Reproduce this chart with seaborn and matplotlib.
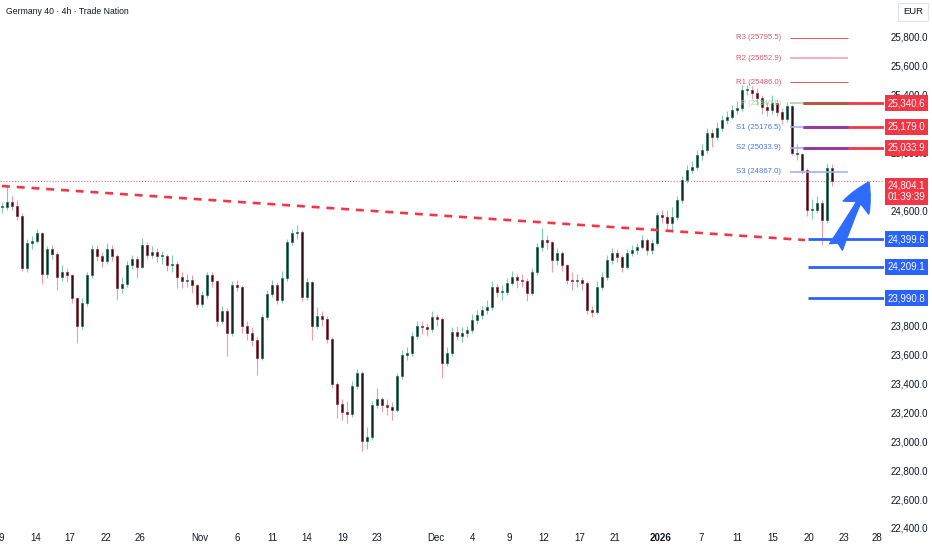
import numpy as np
import pandas as pd
import matplotlib
matplotlib.use("Agg")
import matplotlib.pyplot as plt
import seaborn as sns

# Germany 40, 4h bars (thinned out), prices
closes = [24620, 24660, 24630, 24560, 24200, 24370, 24390, 24440, 24160, 24330,
          24300, 24140, 24170, 24150, 23990, 23800, 23960, 24150, 24330, 24280,
          24250, 24330, 24280, 24060, 24090, 24220, 24260, 24210, 24360, 24290,
          24310, 24280, 24280, 24220, 24230, 24140, 24110, 24120, 24080, 23950,
          24010, 24150, 24110, 23830, 23900, 23750, 24080, 24070, 23800, 23750,
          23700, 23580, 23860, 24020, 24080, 23980, 24130, 24380, 24440, 24450,
          24000, 24100, 23800, 23870, 23850, 23710, 23400, 23260, 23200, 23190,
          23380, 23470, 23000, 23030, 23250, 23290, 23250, 23240, 23220, 23450,
          23600, 23610, 23730, 23800, 23790, 23780, 23860, 23850, 23540, 23610,
          23760, 23730, 23750, 23770, 23840, 23875, 23910, 23930, 24070, 24035,
          24035, 24095, 24140, 24115, 24110, 24030, 24170, 24345, 24395, 24380,
          24255, 24305, 24220, 24115, 24110, 24115, 24095, 23910, 23895, 24070,
          24140, 24255, 24305, 24275, 24205, 24305, 24325, 24345, 24395, 24325,
          24375, 24565, 24550, 24510, 24555, 24670, 24810, 24880, 24900, 24980,
          25020, 25135, 25110, 25170, 25225, 25245, 25295, 25310, 25430, 25435,
          25410, 25375, 25315, 25295, 25345, 25280, 25230, 25320, 25000, 24990,
          24880, 24600, 24600, 24650, 24530, 24890, 24804]
highs = [24660, 24770, 24700, 24670, 24580, 24400, 24420, 24470, 24450, 24350,
         24360, 24310, 24220, 24200, 24160, 24000, 23990, 24170, 24360, 24360,
         24310, 24370, 24360, 24300, 24140, 24250, 24290, 24280, 24410, 24380,
         24350, 24340, 24320, 24300, 24290, 24250, 24170, 24160, 24150, 24090,
         24040, 24170, 24170, 24120, 23940, 23920, 24110, 24120, 24080, 23830,
         23790, 23720, 23880, 24050, 24120, 24100, 24180, 24400, 24470, 24500,
         24460, 24130, 24110, 23930, 23900, 23870, 23720, 23410, 23290, 23280,
         23420, 23500, 23490, 23100, 23280, 23370, 23310, 23290, 23270, 23470,
         23630, 23650, 23760, 23830, 23830, 23820, 23900, 23880, 23860, 23650,
         23790, 23800, 23790, 23800, 23880, 23910, 23940, 23980, 24110, 24090,
         24080, 24130, 24180, 24160, 24160, 24130, 24200, 24370, 24480, 24430,
         24390, 24340, 24320, 24230, 24170, 24160, 24140, 24110, 23940, 24110,
         24170, 24290, 24340, 24330, 24290, 24330, 24360, 24370, 24430, 24410,
         24400, 24590, 24600, 24600, 24620, 24700, 24840, 24910, 24940, 25020,
         25060, 25170, 25160, 25210, 25260, 25290, 25330, 25360, 25470, 25470,
         25460, 25450, 25400, 25350, 25400, 25370, 25310, 25350, 25330, 25060,
         25000, 24890, 24680, 24700, 24670, 24930, 24920]
lows = [24580, 24600, 24600, 24530, 24180, 24170, 24330, 24370, 24090, 24130,
        24260, 24050, 24110, 24100, 23960, 23680, 23780, 23940, 24130, 24250,
        24210, 24230, 24250, 23980, 24030, 24070, 24190, 24130, 24200, 24260,
        24270, 24240, 24230, 24180, 24170, 24060, 24060, 24070, 24030, 23930,
        23930, 23990, 24070, 23800, 23810, 23590, 23730, 24040, 23750, 23700,
        23660, 23460, 23560, 23840, 24000, 23950, 23960, 24110, 24360, 24400,
        23970, 23980, 23700, 23780, 23800, 23680, 23370, 23160, 23150, 23130,
        23170, 23360, 22930, 22950, 23010, 23230, 23200, 23180, 23150, 23200,
        23430, 23560, 23590, 23710, 23740, 23730, 23760, 23800, 23440, 23520,
        23590, 23700, 23690, 23720, 23750, 23810, 23850, 23880, 23910, 24000,
        23980, 24010, 24080, 24060, 24070, 23970, 24010, 24150, 24320, 24330,
        24170, 24220, 24180, 24090, 24050, 24070, 24050, 23880, 23860, 23880,
        24050, 24120, 24230, 24240, 24170, 24190, 24280, 24300, 24330, 24290,
        24300, 24360, 24510, 24470, 24450, 24530, 24650, 24790, 24860, 24880,
        24950, 25000, 25040, 25090, 25150, 25200, 25230, 25270, 25290, 25400,
        25370, 25330, 25270, 25250, 25270, 25250, 25200, 25210, 24980, 24950,
        24850, 24560, 24540, 24580, 24360, 24510, 24770]

tick_labels = ["9", "14", "17", "22", "26", "Nov", "6", "11", "14", "19", "23",
               "Dec", "4", "9", "12", "17", "21", "2026", "7", "11", "15", "20",
               "23", "28"]
tick_pos = [-0.2, 6.8, 13.6, 20.8, 27.6, 39.6, 47.0, 54.0, 61.0, 68.2, 75.0,
            86.8, 94.2, 101.4, 108.4, 115.6, 122.6, 131.8, 139.8, 147.0, 154.2,
            161.4, 168.4, 175.0]
# price scale labels (the ones under the tags are covered on the chart)
price_ticks = [22400, 22600, 22800, 23000, 23200, 23400, 23600, 23800,
               24600, 25000, 25200, 25400, 25600, 25800]

pivot_names = ["R3", "R2", "R1", "P", "S1", "S2", "S3"]
pivot_values = [25795.5, 25652.9, 25486.0, 25340.6, 25176.5, 25033.9, 24867.0]
resistance_levels = [25340.6, 25179.0, 25033.9]
support_levels = [24399.6, 24209.1, 23990.8]
last_price = 24804.1
countdown = "01:39:39"
trend_values = [24768, 24394]

# colours
WICK_UP, WICK_DN = "#7fcdb4", "#f29bab"
BODY_UP, BODY_DN = "#0f2a23", "#2a1014"
EDGE_UP, EDGE_DN = "#1f6e57", "#8c2f3a"
RED, BLUE = "#f23645", "#2962ff"

sns.set_theme(style="white")
plt.rcParams["font.family"] = ["Liberation Sans", "DejaVu Sans"]

fig = plt.figure(figsize=(9.32, 5.5), dpi=100)
ax = fig.add_axes([0, 20 / 550, 884 / 932, 530 / 550])

df = pd.DataFrame({"close": closes, "high": highs, "low": lows})
df["open"] = df["close"].shift(1).fillna(df["close"])
df["x"] = np.arange(len(df))
up = df["close"] >= df["open"]

for mask, wick, body, edge in [(up, WICK_UP, BODY_UP, EDGE_UP),
                               (~up, WICK_DN, BODY_DN, EDGE_DN)]:
    d = df[mask]
    ax.vlines(d["x"], d["low"], d["high"], color=wick, lw=0.8, zorder=2)
    lo = np.minimum(d["open"], d["close"])
    h = np.maximum((d["close"] - d["open"]).abs(), 8)
    ax.bar(d["x"], h, bottom=lo, width=0.55, color=body, edgecolor=edge,
           linewidth=0.5, zorder=3)

# trend line
xmin, xmax = -0.4, -0.4 + 884 / 5
trend = pd.DataFrame({"x": [0, 160.6], "y": trend_values})
sns.lineplot(data=trend, x="x", y="y", ax=ax, color=RED, lw=1.9,
             linestyle=(0, (3, 2.6)), zorder=4)

# last price dotted line
ax.axhline(last_price, color="#f7707c", lw=0.8, ls=(0, (1, 1.6)), zorder=1)

# pivot levels
piv_x0, piv_x1, piv_x2 = 157.6, 160.2, 169.2
piv_line = {"R3": ("#ef5350", 0.7), "R2": ("#f8a8b8", 1.3), "R1": ("#ef5350", 0.7),
            "P": ("#a5d6a7", 1.2), "S1": ("#9fb3f5", 1.2), "S2": ("#9fb3f5", 1.2),
            "S3": ("#9fb3f5", 1.2)}
for name, val in zip(pivot_names, pivot_values):
    col, lw = piv_line[name]
    end = piv_x1 if name in ("P", "S1", "S2") else piv_x2
    ax.hlines(val, piv_x0, end, color=col, lw=lw, zorder=4)
    tcol = "#e0566e" if name.startswith("R") else ("#4a78e6" if name.startswith("S") else "#a5d6a7")
    ax.text(155.8, val, f"{name} ({val:.1f})", color=tcol, fontsize=5.6,
            ha="right", va="center", zorder=5)

blend = ["#b35a3c", "#8e3aa8", "#8e3aa8"]
for val, bc in zip(resistance_levels, blend):
    ax.hlines(val, piv_x1, xmax, color=RED, lw=2.0, zorder=4)
    ax.hlines(val, piv_x1, piv_x2, color=bc, lw=2.0, zorder=4)
for val in support_levels:
    ax.hlines(val, 161.2, xmax, color=BLUE, lw=2.0, zorder=4)

# arrow
ax.annotate("", xy=(173.4, 24796), xytext=(166.8, 24346),
            arrowprops=dict(arrowstyle="fancy,head_length=0.9,head_width=0.9,tail_width=0.45",
                            mutation_scale=23, color="#2f6bff", shrinkA=0, shrinkB=0),
            zorder=6)

ax.set_xlim(xmin, xmax)
ax.set_ylim(22386, 26056)
ax.set_xticks(tick_pos)
ax.set_xticklabels(tick_labels)
for lab in ax.get_xticklabels():
    if lab.get_text() == "2026":
        lab.set_fontweight("bold")
ax.yaxis.tick_right()
ax.set_yticks(price_ticks)
ax.set_yticklabels([f"{v:,.1f}" for v in price_ticks])
ax.tick_params(axis="x", length=0, pad=2, labelsize=7, labelcolor="#131722")
ax.tick_params(axis="y", length=0, pad=5, labelsize=7, labelcolor="#131722")
ax.set_xlabel("")
ax.set_ylabel("")
ax.grid(False)
sns.despine(ax=ax, left=True, bottom=True, right=True, top=True)

# price tags on the scale
tr = ax.get_yaxis_transform()
for val in resistance_levels:
    ax.text(1.004, val, f"{val:,.1f}", transform=tr, color="white", fontsize=7,
            ha="left", va="center", clip_on=False, zorder=10,
            bbox=dict(boxstyle="square,pad=0.3", fc=RED, ec="none"))
for val in support_levels:
    ax.text(1.004, val, f"{val:,.1f}", transform=tr, color="white", fontsize=7,
            ha="left", va="center", clip_on=False, zorder=10,
            bbox=dict(boxstyle="square,pad=0.3", fc=BLUE, ec="none"))
ax.text(1.004, last_price, f"{last_price:,.1f}\n{countdown}", transform=tr,
        color="white", fontsize=7, ha="left", va="top", linespacing=1.15,
        clip_on=False, zorder=10,
        bbox=dict(boxstyle="square,pad=0.3", fc=RED, ec="none"))

fig.text(0.006, 1 - 11 / 550, "Germany 40 · 4h · Trade Nation", fontsize=6.2,
         color="#131722", ha="left", va="center")
fig.text(903 / 932, 1 - 12 / 550, "EUR", fontsize=6.8, color="#131722",
         ha="left", va="center",
         bbox=dict(boxstyle="square,pad=0.5", fc="white", ec="#e0e3eb", lw=0.8))

fig.savefig("out.png", dpi=100, facecolor="white")
